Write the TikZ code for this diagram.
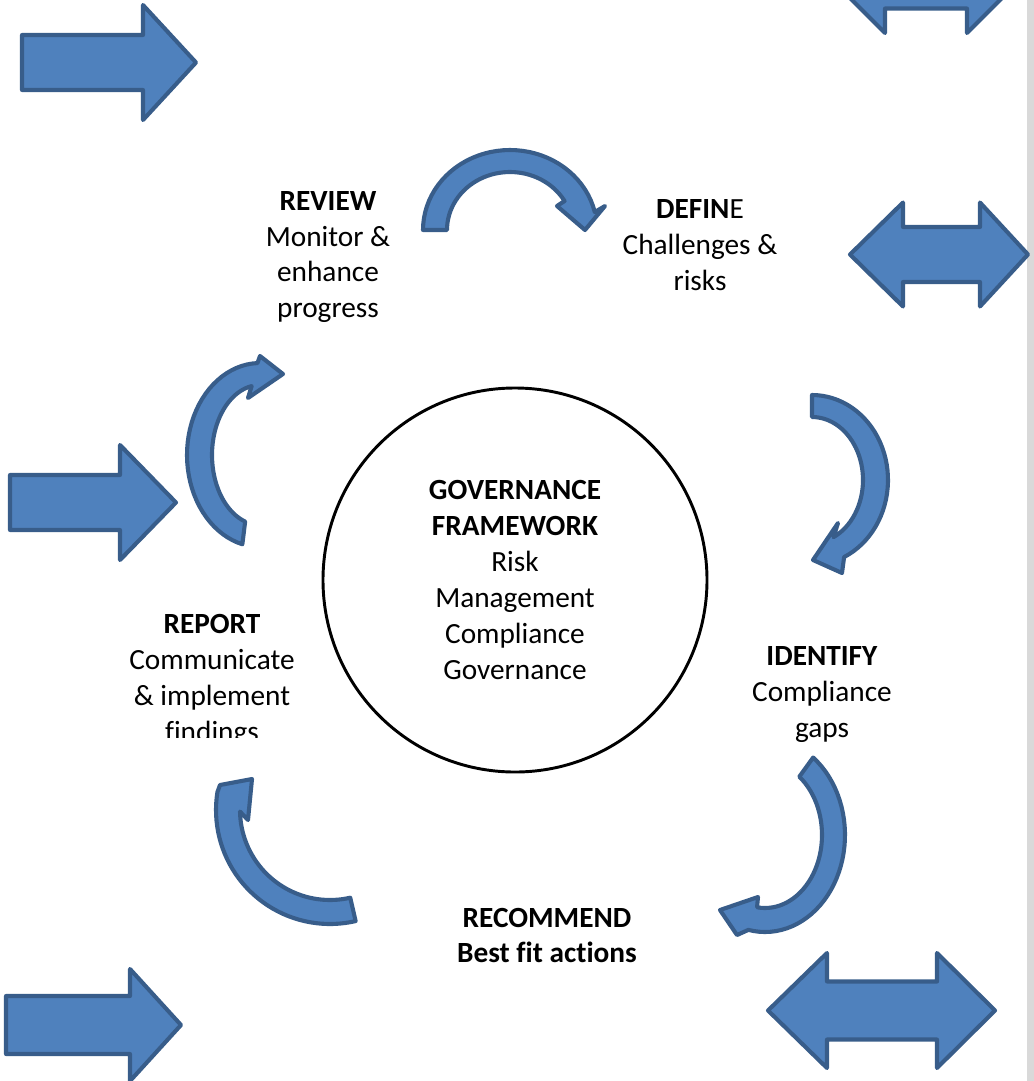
\documentclass[tikz,border=0pt]{standalone}
\usepackage{fontspec}
\setmainfont[Ligatures=NoCommon]{Carlito}
\usepackage{tikz}
\usetikzlibrary{positioning}
\definecolor{blockfill}{HTML}{4F81BD}
\definecolor{blockline}{HTML}{385D8A}
\definecolor{pagegrey}{HTML}{D9D9D9}
% band along an ellipse: centre x, centre y, x radius, y radius, from, to
\newcommand{\bentband}[6]{plot[domain=#5:#6,samples=40]({#1+#3*cos(\x)},{#2+#4*sin(\x)})}
\newcommand{\bentback}[6]{-- plot[domain=#5:#6,samples=40]({#1+#3*cos(\x)},{#2+#4*sin(\x)})}
% block arrow: tail x, head x, tip x, mid y, half body, half head
\newcommand{\fatright}[6]{(#1,#4-#5) -- (#2,#4-#5) -- (#2,#4-#6) -- (#3,#4) -- (#2,#4+#6) -- (#2,#4+#5) -- (#1,#4+#5) -- cycle}
% double block arrow: left tip, left head, right head, right tip, mid y, half body, half head
\newcommand{\fatboth}[7]{(#1,#5) -- (#2,#5-#7) -- (#2,#5-#6) -- (#3,#5-#6) -- (#3,#5-#7) -- (#4,#5) -- (#3,#5+#7) -- (#3,#5+#6) -- (#2,#5+#6) -- (#2,#5+#7) -- cycle}

\begin{document}
\begin{tikzpicture}[x=0.03cm,y=-0.03cm]
\tikzstyle{block}=[fill=blockfill, draw=blockline, line width=3.5pt, line join=round]
\tikzstyle{words}=[align=center, inner sep=0pt, font=\fontsize{25}{30.7}\selectfont]
\useasboundingbox (0,0) rectangle (1034,1081);
\clip (0,0) rectangle (1034,1081);
\fill[pagegrey] (1027,0) rectangle (1034,1081);

% straight arrows
\filldraw[block] \fatright{22}{143}{196}{62.5}{27.5}{57.5};
\filldraw[block] \fatright{10}{120}{176}{502.5}{27.5}{57.5};
\filldraw[block] \fatright{6}{130}{181}{1025}{29}{56};
\filldraw[block] \fatboth{833}{885}{967}{1019}{-19}{27.5}{52};
\filldraw[block] \fatboth{850}{903}{980}{1028}{254.5}{27.5}{52};
\filldraw[block] \fatboth{768}{827}{937}{995}{1010.5}{29}{57.5};

% cycle arrows
\filldraw[block] \bentband{510}{230}{87}{80}{180}{347} -- (605,206) -- (585,230) -- (557,206) \bentback{510}{230}{63}{58}{330}{180} -- cycle;
\filldraw[block] \bentband{812}{480}{76}{85}{270}{425} -- (842,573) -- (813,560) -- (838,523) \bentback{812}{480}{51}{63}{425}{270} -- cycle;
\filldraw[block] \bentband{765}{835}{80}{97}{307}{462} -- (737,935) -- (720,910) -- (758,897) \bentback{765}{835}{57}{73}{458}{307} -- cycle;
\filldraw[block] \bentband{330}{810}{114}{114}{77}{189} -- (220,785) -- (252,779) -- (248,820) \bentback{330}{810}{90}{90}{179}{77} -- cycle;
\filldraw[block] \bentband{260}{455}{73}{92}{104}{268} -- (260,356) -- (283,374) -- (248,398) \bentback{260}{455}{48}{70}{260}{108} -- cycle;

% texts
\node[words, circle, draw=black, line width=2.5pt, minimum size=11.52cm] (gov) at (515,580)
  {\textbf{GOVERNANCE}\\\textbf{FRAMEWORK}\\Risk\\Management\\Compliance\\Governance};
\node[words] (review) at (328,257) {\textbf{REVIEW}\\Monitor \&\\enhance\\progress};
\node[words] (define) at (700,245) {\textbf{DEFIN}E\\Challenges \&\\risks};
\node[words] (identify) at (822,694.5) {\textbf{IDENTIFY}\\Compliance\\gaps};
\node[words] (recommend) at (547,935.5) {\textbf{RECOMMEND}\\\textbf{Best fit actions}};
\begin{scope}
\clip (100,590) rectangle (330,737);
\node[words] (report) at (212,680.5) {\textbf{REPORT}\\Communicate\\\& implement\\findings};
\end{scope}
\end{tikzpicture}
\end{document}
